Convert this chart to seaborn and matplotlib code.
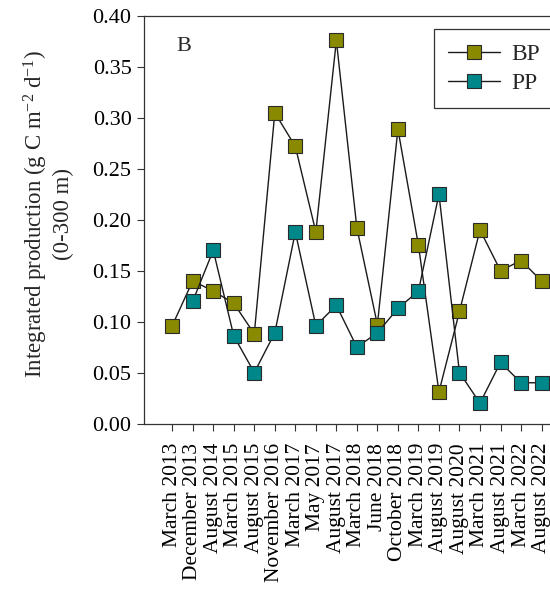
import numpy as np
import pandas as pd
import matplotlib
matplotlib.use("Agg")
import matplotlib.pyplot as plt
import seaborn as sns

sampling_dates = [
    "March 2013", "December 2013", "August 2014", "March 2015", "August 2015",
    "November 2016", "March 2017", "May 2017", "August 2017", "March 2018",
    "June 2018", "October 2018", "March 2019", "August 2019", "August 2020",
    "March 2021", "August 2021", "March 2022", "August 2022",
]
bp_values = [0.096, 0.140, 0.130, 0.118, 0.088, 0.305, 0.272, 0.188, 0.376, 0.192,
             0.097, 0.289, 0.175, 0.031, 0.110, 0.190, 0.150, 0.160, 0.140]
pp_values = [np.nan, 0.120, 0.170, 0.086, 0.050, 0.089, 0.188, 0.096, 0.116, 0.075,
             0.089, 0.113, 0.130, 0.225, 0.050, 0.020, 0.060, 0.040, 0.040]
y_ticks = [0.00, 0.05, 0.10, 0.15, 0.20, 0.25, 0.30, 0.35, 0.40]

sns.set_theme(style="ticks")
plt.rcParams["font.family"] = ["Liberation Serif", "DejaVu Serif"]
plt.rcParams["mathtext.fontset"] = "custom"
plt.rcParams["mathtext.rm"] = "Liberation Serif"
plt.rcParams["mathtext.it"] = "Liberation Serif:italic"

pos = np.arange(len(sampling_dates))
df = pd.DataFrame({"pos": pos, "BP": bp_values, "PP": pp_values})

fig = plt.figure(figsize=(5.5, 5.92), dpi=100)
ax = fig.add_axes([0.262, 0.2846, 0.745, 0.6884])

olive = "#8a8a00"
teal = "#00878a"
marker_kw = dict(marker="s", markersize=9.5, markeredgecolor="#2a2a2a",
                 markeredgewidth=0.8, linewidth=1.0, color="#1a1a1a")

sns.lineplot(data=df, x="pos", y="BP", ax=ax, markerfacecolor=olive,
             label="BP", zorder=3, **marker_kw)
sns.lineplot(data=df, x="pos", y="PP", ax=ax, markerfacecolor=teal,
             label="PP", zorder=4, **marker_kw)

ax.set_xlim(-1.37, 18.6)
ax.set_ylim(0, 0.40)
ax.set_yticks(y_ticks)
ax.set_yticklabels([f"{t:.2f}" for t in y_ticks])
ax.set_xticks(pos)
ax.set_xticklabels(sampling_dates, rotation=90)
ax.tick_params(axis="both", direction="out", length=5, width=0.8,
               colors="#333333", labelcolor="black")
ax.tick_params(axis="y", labelsize=16, pad=4)
ax.tick_params(axis="x", labelsize=15.5, pad=9)
for side in ["left", "bottom", "top", "right"]:
    ax.spines[side].set_color("#333333")
    ax.spines[side].set_linewidth(0.9)

ax.set_xlabel("")
ax.set_ylabel("Integrated production (g C m$^{-2}$ d$^{-1}$)\n(0-300 m)",
              fontsize=16.5, linespacing=1.2)
ax.yaxis.set_label_coords(-0.17, 0.515)

ax.text(0.096, 0.924, "B", transform=ax.transAxes, fontsize=16,
        ha="center", va="center")

handles, labels = ax.get_legend_handles_labels()
leg = ax.legend(handles, labels, loc="upper left",
                bbox_to_anchor=(0.707, 0.968), fontsize=17, frameon=True,
                fancybox=False, edgecolor="black", handlelength=2.2,
                handletextpad=0.47, borderpad=0.62, labelspacing=0.3,
                borderaxespad=0)
leg.get_frame().set_linewidth(0.9)

fig.savefig("out.png", dpi=100)
